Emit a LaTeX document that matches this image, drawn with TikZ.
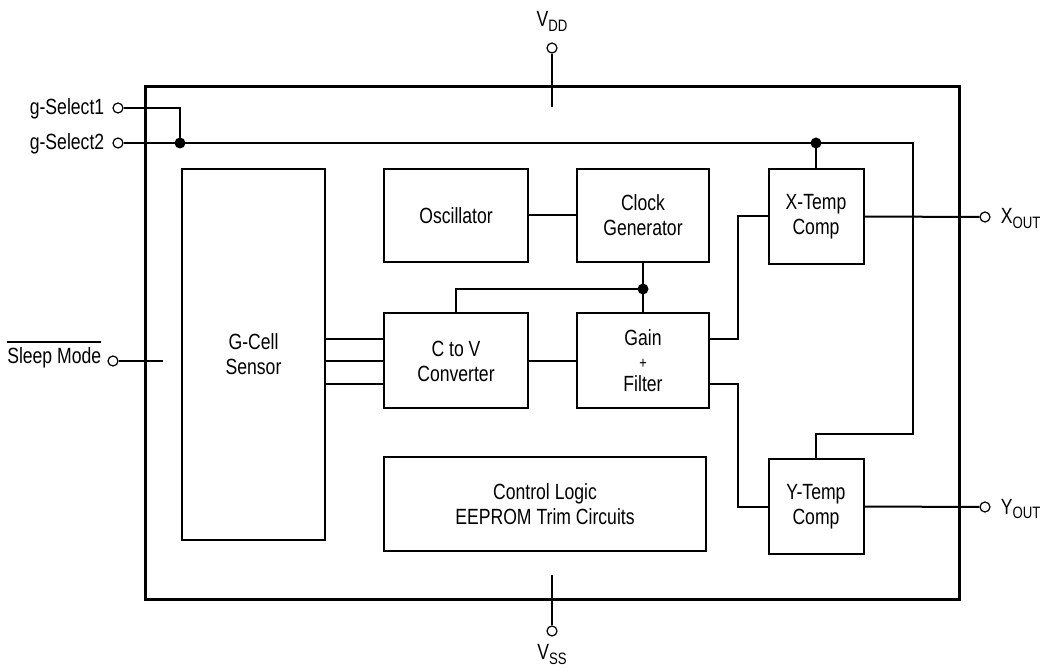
\documentclass[tikz,border=0pt]{standalone}
\usepackage{fontspec}
\setmainfont{Liberation Sans}[FakeStretch=0.8]
\newcommand{\sbs}[1]{\raisebox{-0.22em}{\fontsize{16.5}{16.5}\selectfont #1}}
\begin{document}
\begin{tikzpicture}[x=1pt,y=-1pt,
  wire/.style={line width=2pt},
  blk/.style={draw,line width=2pt,inner sep=0pt,align=center,font=\fontsize{22}{25}\selectfont},
  term/.style={draw,circle,line width=1.2pt,minimum size=10pt,inner sep=0pt},
  lbl/.style={inner sep=0pt,font=\fontsize{22}{25}\selectfont},
  dot/.style={circle,fill,minimum size=11pt,inner sep=0pt}]
\useasboundingbox (0,0) rectangle (1045,668);
% outer package
\draw[line width=3pt] (145,87) rectangle (959,599);
% blocks
\node[blk,minimum width=143pt,minimum height=371pt] (gcell) at (253.5,354.5) {G-Cell\\Sensor};
\node[blk,minimum width=144pt,minimum height=93pt] (osc) at (456,215.5) {Oscillator};
\node[blk,minimum width=132pt,minimum height=93pt] (clk) at (643,215.5) {Clock\\Generator};
\node[blk,minimum width=144pt,minimum height=95pt] (ctov) at (456,361) {C to V\\Converter};
\node[blk,minimum width=132pt,minimum height=95pt] (gain) at (643,361) {Gain\\[-2pt]{\fontsize{16}{16}\selectfont +}\\[-2pt]Filter};
\node[blk,minimum width=95pt,minimum height=95pt] (xtemp) at (816,216.5) {X-Temp\\Comp};
\node[blk,minimum width=95pt,minimum height=95pt] (ytemp) at (816,506.5) {Y-Temp\\Comp};
\node[blk,minimum width=322pt,minimum height=94pt] (ctrl) at (545,504) {Control Logic\\EEPROM Trim Circuits};
% terminals
\node[term] (gs1) at (118,108) {};
\node[term] (gs2) at (118,143) {};
\node[term] (slp) at (113,361) {};
\node[term] (vdd) at (552,48) {};
\node[term] (vss) at (552,631) {};
\node[term] (xo) at (985,217) {};
\node[term] (yo) at (985,507) {};
% labels
\node[lbl,anchor=base east] at ([shift={(-8pt,-7pt)}]gs1.west) {g-Select1};
\node[lbl,anchor=base east] at ([shift={(-8pt,-7pt)}]gs2.west) {g-Select2};
\node[lbl,anchor=base east] (slplbl) at ([shift={(-6pt,-3pt)}]slp.west) {Sleep Mode};
\draw[line width=1.6pt] ([yshift=6pt]slplbl.north west) -- ([yshift=6pt]slplbl.north east);
\node[lbl,anchor=base] at ([yshift=16pt]vdd.north) {V\sbs{DD}};
\node[lbl,anchor=base] at ([yshift=-23pt]vss.south) {V\sbs{SS}};
\node[lbl,anchor=base west] at ([shift={(10pt,-7pt)}]xo.east) {X\sbs{OUT}};
\node[lbl,anchor=base west] at ([shift={(10pt,-7pt)}]yo.east) {Y\sbs{OUT}};
% coordinates
\coordinate (j1) at (180,143);
\coordinate (j2) at (816,143);
\coordinate (j3) at (643,289);
\coordinate (rt) at (913,143);
\coordinate (rb) at (913,434);
\coordinate (vddin) at (552,107);
\coordinate (vssin) at (552,575);
\coordinate (slpin) at (163,361);
\coordinate (xj) at (738,339);
\coordinate (yj) at (738,384);
% wires
\draw[wire] (gs1.east) -| (j1);
\draw[wire] (gs2.east) -- (rt) -- (rb) -| (ytemp.north);
\draw[wire] (j2) -- (xtemp.north);
\draw[wire] (vdd.south) -- (vddin);
\draw[wire] (vss.north) -- (vssin);
\draw[wire] (slp.east) -- (slpin);
\draw[wire] (xtemp.east) -- (xo.west);
\draw[wire] (ytemp.east) -- (yo.west);
\draw[wire] (osc.east) -- (clk.west);
\draw[wire] (clk.south) -- (gain.north);
\draw[wire] (j3) -| (ctov.north);
\draw[wire] ([yshift=22pt]ctov.west) -- ([yshift=22pt]ctov.west -| gcell.east);
\draw[wire] (ctov.west) -- (ctov.west -| gcell.east);
\draw[wire] ([yshift=-23pt]ctov.west) -- ([yshift=-23pt]ctov.west -| gcell.east);
\draw[wire] (ctov.east) -- (gain.west);
\draw[wire] ([yshift=22pt]gain.east) -- (xj) |- (xtemp.west);
\draw[wire] ([yshift=-23pt]gain.east) -- (yj) |- (ytemp.west);
% junction dots
\node[dot] at (j1) {};
\node[dot] at (j2) {};
\node[dot] at (j3) {};
\end{tikzpicture}
\end{document}
